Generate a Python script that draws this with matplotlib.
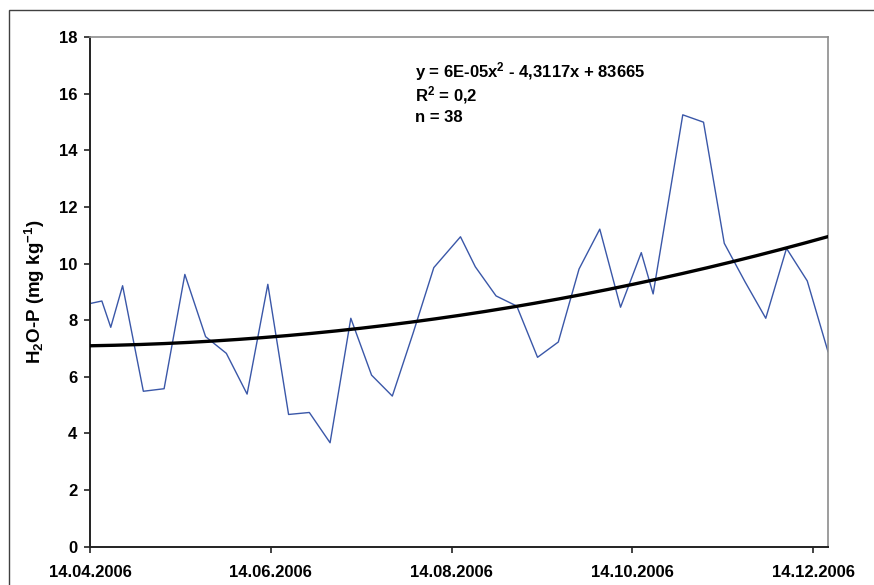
import matplotlib
matplotlib.use("Agg")
import matplotlib.pyplot as plt
import matplotlib.dates as mdates
import numpy as np
from matplotlib.patches import Rectangle
from datetime import datetime

plt.rcParams['font.family'] = ['Liberation Sans', 'DejaVu Sans']
plt.rcParams['mathtext.fontset'] = 'custom'
plt.rcParams['mathtext.rm'] = 'Liberation Sans:bold'
plt.rcParams['mathtext.bf'] = 'Liberation Sans:bold'
plt.rcParams['mathtext.default'] = 'rm'

dates = ["14.04.2006", "18.04.2006", "21.04.2006", "25.04.2006", "02.05.2006",
         "09.05.2006", "16.05.2006", "23.05.2006", "30.05.2006", "06.06.2006",
         "13.06.2006", "20.06.2006", "27.06.2006", "04.07.2006", "11.07.2006",
         "18.07.2006", "25.07.2006", "01.08.2006", "08.08.2006", "17.08.2006",
         "22.08.2006", "29.08.2006", "05.09.2006", "12.09.2006", "19.09.2006",
         "26.09.2006", "03.10.2006", "10.10.2006", "17.10.2006", "21.10.2006",
         "31.10.2006", "07.11.2006", "14.11.2006", "21.11.2006", "28.11.2006",
         "05.12.2006", "12.12.2006", "19.12.2006"]
h2o_p = [8.59, 8.68, 7.75, 9.22, 5.49, 5.58, 9.62, 7.42, 6.83, 5.39,
         9.27, 4.67, 4.74, 3.67, 8.07, 6.06, 5.32, 7.54, 9.86, 10.95,
         9.89, 8.86, 8.50, 6.69, 7.23, 9.81, 11.22, 8.46, 10.39, 8.93,
         15.26, 15.00, 10.72, 9.36, 8.07, 10.54, 9.39, 6.89]
tick_dates = ["14.04.2006", "14.06.2006", "14.08.2006", "14.10.2006", "14.12.2006"]
y_ticks = [0, 2, 4, 6, 8, 10, 12, 14, 16, 18]
eq_lines = ["y = 6E-05x$^{2}$ - 4,3117x + 83665", "R$^{2}$ = 0,2", "n = 38"]

x = mdates.date2num([datetime.strptime(d, "%d.%m.%Y") for d in dates])
y = np.array(h2o_p)
xt = mdates.date2num([datetime.strptime(d, "%d.%m.%Y") for d in tick_dates])

fig = plt.figure(figsize=(8.74, 5.85), dpi=100)
fig.patch.set_facecolor('white')
# outer chart border (cropped at right/bottom)
fig.add_artist(Rectangle((9/874, -0.1), 1.2, 1 - 10/585 + 0.1, transform=fig.transFigure,
                         fill=False, edgecolor='#404040', lw=1.0))

ax = fig.add_axes([90/874, 1 - 546.6/585, (828 - 90)/874, (546.6 - 37.3)/585])
ax.plot(x, y, color='#3a57a8', lw=1.0, zorder=2)

coef = np.polyfit(x - x[0], y, 2)
xs = np.linspace(x[0], x[-1], 300)
ax.plot(xs, np.polyval(coef, xs - x[0]), color='black', lw=2.4, zorder=3)

ax.set_xlim(x[0], x[-1])
ax.set_ylim(0, 18)
ax.set_yticks(y_ticks)
ax.set_xticks(xt)
ax.set_xticklabels(tick_dates)
for s in ['left', 'bottom']:
    ax.spines[s].set_color('#222222')
    ax.spines[s].set_linewidth(1.4)
for s in ['top', 'right']:
    ax.spines[s].set_color('#8c8c8c')
    ax.spines[s].set_linewidth(1.2)
ax.tick_params(axis='both', direction='out', length=4, width=1.2, color='#222222',
               labelsize=12)
ax.tick_params(axis='y', pad=5)
ax.tick_params(axis='x', pad=9)
for lab in ax.get_xticklabels() + ax.get_yticklabels():
    lab.set_fontweight('bold')

ax.set_ylabel(r'H$_{2}$O-P (mg kg$^{-1}$)', fontsize=13.5, fontweight='bold')
ax.yaxis.set_label_coords(-0.058, 0.5)

for i, t in enumerate(eq_lines):
    fig.text(415/874, 1 - (72 + 23 * i)/585, t, fontsize=12, fontweight='bold',
             ha='left', va='center')

fig.savefig('out.png', dpi=100)
